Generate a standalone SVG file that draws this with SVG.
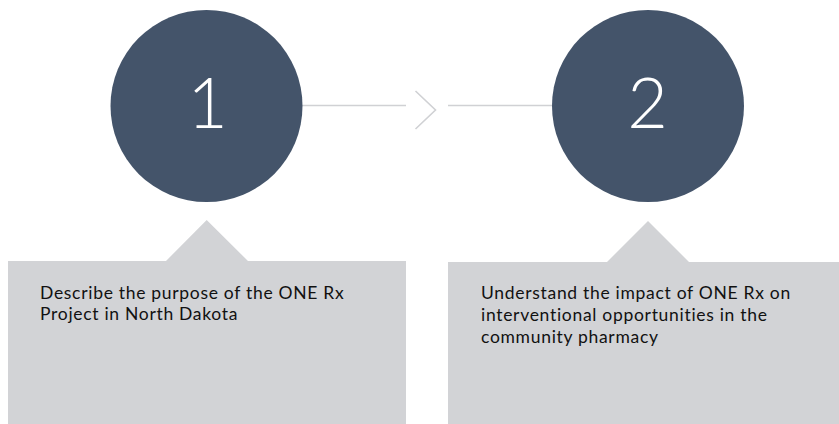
<svg xmlns="http://www.w3.org/2000/svg" width="839" height="424" viewBox="0 0 839 424">
<style>
.circle{fill:#44546A}
.num{fill:#ffffff;font-family:Lato,"Open Sans",sans-serif;font-weight:300;font-size:70px;text-anchor:middle}
.box{fill:#D2D3D6}
.txt{fill:#111111;font-family:Lato,"Liberation Sans",sans-serif;font-size:17.5px;letter-spacing:0.7px}
.conn{stroke:#D0D1D4;stroke-width:1.6;fill:none}
</style>
<rect width="839" height="424" fill="#ffffff"/>
<g id="connectors">
<line class="conn" x1="302" y1="105.5" x2="406" y2="105.5"/>
<polyline class="conn" points="415.5,91 435.5,110 415.5,129" stroke-width="2"/>
<line class="conn" x1="448" y1="105.5" x2="552" y2="105.5"/>
</g>
<g id="node1">
<circle class="circle" cx="206.5" cy="106" r="96"/>
<text class="num" x="207.5" y="128.3">1</text>
</g>
<g id="node2">
<circle class="circle" cx="648" cy="106" r="96"/>
<text class="num" x="647.5" y="128.3">2</text>
</g>
<g id="box1">
<path class="box" d="M8,261 H166 L206.7,220 L248,261 H406 V424 H8 Z"/>
<text class="txt" x="40" y="299">Describe the purpose of the ONE Rx</text>
<text class="txt" x="40" y="320">Project in North Dakota</text>
</g>
<g id="box2">
<path class="box" d="M448,262 H607 L648,221 L689,262 H839 V424 H448 Z"/>
<text class="txt" x="481" y="299">Understand the impact of ONE Rx on</text>
<text class="txt" x="481" y="321">interventional opportunities in the</text>
<text class="txt" x="481" y="343">community pharmacy</text>
</g>
</svg>
